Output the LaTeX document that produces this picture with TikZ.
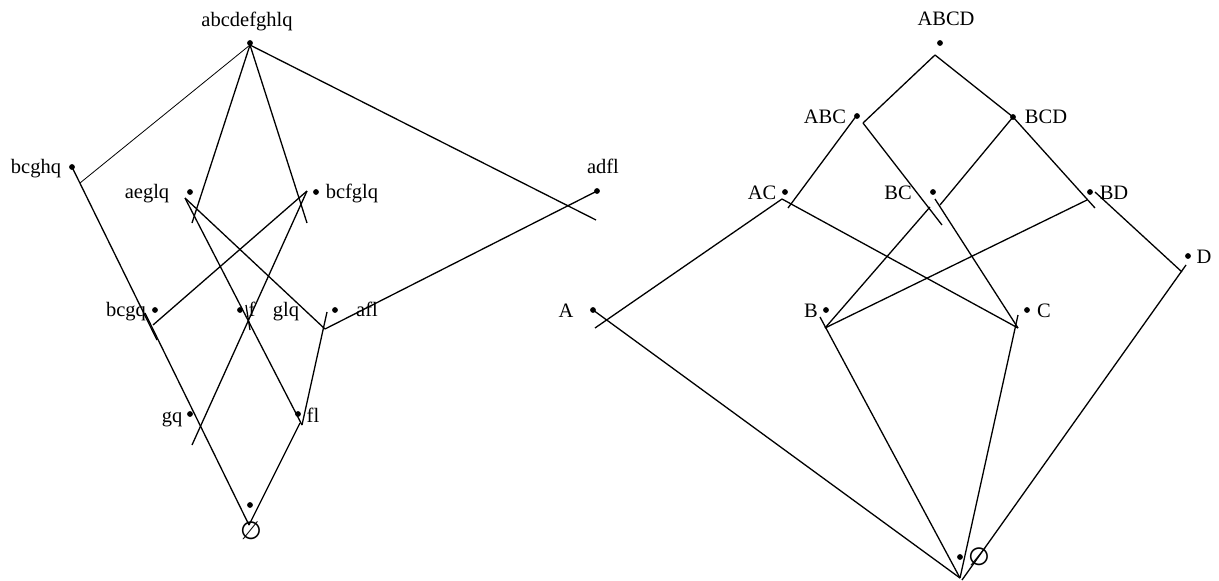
\documentclass[tikz,border=0pt]{standalone}
\usepackage{fontspec}
\setmainfont{Liberation Serif}
\newfontfamily\symfnt{DejaVu Sans}
\begin{document}
\begin{tikzpicture}[x=1pt,y=-1pt,
  conn/.style={line width=1.3pt},
  thinconn/.style={line width=0.8pt},
  dot/.style={circle,fill=black,inner sep=0pt,minimum size=5.8pt},
  lbl/.style={inner sep=0pt,anchor=base,font=\fontsize{20.5}{24}\selectfont},
  emptylbl/.style={inner sep=0pt,font=\symfnt\fontsize{25}{28}\selectfont}]
\useasboundingbox (0,0) rectangle (1219,581);
% ---------------- left lattice: dots ----------------
\node[dot] (dT) at (250,43) {};
\node[dot] (dbcghq) at (72,167) {};
\node[dot] (daeglq) at (190,192) {};
\node[dot] (dbcfglq) at (316,192) {};
\node[dot] (dadfl) at (597,191) {};
\node[dot] (dbcgq) at (155,310) {};
\node[dot] (df) at (240,310) {};
\node[dot] (dafl) at (335,310) {};
\node[dot] (dgq) at (190,414) {};
\node[dot] (dfl) at (298,414) {};
\node[dot] (dbot) at (250,505) {};
% labels
\node[lbl] (labcd) at (247,26) {abcdefghlq};
\node[lbl] (lbcghq) at (36,173) {bcghq};
\node[lbl] (laeglq) at (147,198) {aeglq};
\node[lbl] (lbcfglq) at (352,198) {bcfglq};
\node[lbl] (ladfl) at (603,173) {adfl};
\node[lbl] (lbcgq) at (126,316) {bcgq};
\node[lbl] (lf) at (252,316) {f};
\node[lbl] (lglq) at (286,316) {glq};
\node[lbl] (lafl) at (367,316) {afl};
\node[lbl] (lgq) at (172,422) {gq};
\node[lbl] (lfl) at (313,422) {fl};
\node[emptylbl] (lempty) at (251,531) {∅};
% connector end points
\coordinate (aT) at (250,45);
\coordinate (e1) at (80,183);
\coordinate (e2) at (192,223);
\coordinate (e3) at (307,223);
\coordinate (e4) at (596,220);
\coordinate (s5) at (72,167);
\coordinate (e5) at (157,340);
\coordinate (s6) at (145,313);
\coordinate (bL) at (249,525);
\coordinate (sBF) at (307,191);
\coordinate (e7) at (153,325);
\coordinate (e8) at (192,445);
\coordinate (sAE) at (185,198);
\coordinate (vAF) at (325,329);
\coordinate (vFL) at (302,425);
\coordinate (eAD) at (597,191);
\coordinate (s12) at (327,312);
\coordinate (s13) at (300,423);
\coordinate (s14) at (246,305);
\coordinate (e14) at (250,330);
\draw[thinconn] (aT) -- (e1);
\draw[conn] (aT) -- (e2);
\draw[conn] (aT) -- (e3);
\draw[conn] (aT) -- (e4);
\draw[conn] (s5) -- (e5);
\draw[conn] (s6) -- (bL);
\draw[conn] (sBF) -- (e7);
\draw[conn] (sBF) -- (e8);
\draw[conn] (sAE) -- (vAF);
\draw[conn] (sAE) -- (vFL);
\draw[conn] (vAF) -- (eAD);
\draw[conn] (s12) -- (vFL);
\draw[conn] (s13) -- (bL);
\draw[conn] (s14) -- (e14);
% ---------------- right lattice: dots ----------------
\node[dot] (dABCD) at (940,43) {};
\node[dot] (dABC) at (857,116) {};
\node[dot] (dBCD) at (1013,117) {};
\node[dot] (dAC) at (785,192) {};
\node[dot] (dBC) at (933,192) {};
\node[dot] (dBD) at (1090,192) {};
\node[dot] (dA) at (593,310) {};
\node[dot] (dB) at (826,310) {};
\node[dot] (dC) at (1027,310) {};
\node[dot] (dD) at (1188,256) {};
\node[dot] (dRbot) at (960,557) {};
% labels
\node[lbl] (lABCD) at (946,25) {ABCD};
\node[lbl] (lABC) at (825,123) {ABC};
\node[lbl] (lBCD) at (1046,123) {BCD};
\node[lbl] (lAC) at (762,199) {AC};
\node[lbl] (lBC) at (898,199) {BC};
\node[lbl] (lBD) at (1114,199) {BD};
\node[lbl] (lA) at (566,317) {A};
\node[lbl] (lB) at (811,317) {B};
\node[lbl] (lC) at (1044,317) {C};
\node[lbl] (lD) at (1204,263) {D};
\node[emptylbl] (lRempty) at (979,557) {∅};
% connector end points
\coordinate (aR) at (935,55);
\coordinate (pABC) at (863,123);
\coordinate (pBCD) at (1013,117);
\coordinate (sABC) at (857,115);
\coordinate (eABCac) at (788,208);
\coordinate (eABCbc) at (942,225);
\coordinate (eBCDbc) at (940,205);
\coordinate (eBCDbd) at (1095,208);
\coordinate (pAC) at (782,199);
\coordinate (eA) at (595,328);
\coordinate (vC) at (1018,328);
\coordinate (sBCc) at (935,199);
\coordinate (sBCb) at (930,207);
\coordinate (vB) at (825,328);
\coordinate (sBDb) at (1087,200);
\coordinate (sBDd) at (1095,192);
\coordinate (vD) at (1182,272);
\coordinate (sA) at (593,310);
\coordinate (bR) at (960,578);
\coordinate (sB) at (820,317);
\coordinate (sC) at (1018,315);
\coordinate (sD) at (1186,265);
\coordinate (bR2) at (962,580);
\draw[conn] (aR) -- (pABC);
\draw[conn] (aR) -- (pBCD);
\draw[conn] (sABC) -- (eABCac);
\draw[conn] (pABC) -- (eABCbc);
\draw[conn] (pBCD) -- (eBCDbc);
\draw[conn] (pBCD) -- (eBCDbd);
\draw[conn] (pAC) -- (eA);
\draw[conn] (pAC) -- (vC);
\draw[conn] (sBCc) -- (vC);
\draw[conn] (sBCb) -- (vB);
\draw[conn] (sBDb) -- (vB);
\draw[conn] (sBDd) -- (vD);
\draw[conn] (sA) -- (bR);
\draw[conn] (sB) -- (bR);
\draw[conn] (sC) -- (bR);
\draw[conn] (sD) -- (bR2);
\end{tikzpicture}
\end{document}
